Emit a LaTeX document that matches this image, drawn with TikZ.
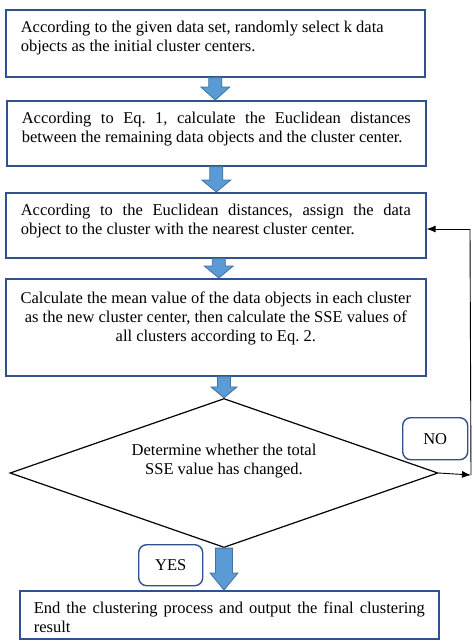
\documentclass[tikz,border=0pt]{standalone}
\usepackage{fontspec}
\setmainfont{Liberation Serif}
\usetikzlibrary{shapes.geometric,arrows.meta,calc}
\definecolor{boxblue}{HTML}{2F528F}
\definecolor{arrfill}{HTML}{5B9BD5}
\definecolor{arrline}{HTML}{41719C}
\newcommand\blockarrow[5]{%
  \draw[barrow] let \p1=#1, \p2=#2 in
    (\x1-#3,\y1) -- (\x1+#3,\y1) -- (\x1+#3,\y2+#5) -- (\x1+#4,\y2+#5)
    -- (\x1,\y2) -- (\x1-#4,\y2+#5) -- (\x1-#3,\y2+#5) -- cycle;}
\frenchspacing
\begin{document}
\begin{tikzpicture}[x=1pt,y=-1pt,font=\fontsize{16.5}{18.7}\selectfont,
  box/.style={draw=boxblue,line width=1.6pt,anchor=north west,inner xsep=15pt,inner ysep=0pt},
  barrow/.style={draw=arrline,fill=arrfill,line width=0.8pt},
  tag/.style={draw=boxblue,line width=1.4pt,rounded corners=8pt,minimum width=65pt,minimum height=42pt,anchor=north west,inner sep=0pt},
  link/.style={line width=0.9pt},
  tip/.style={-{Latex[length=9pt,width=7pt]}}]
\useasboundingbox (0,0) rectangle (474,641);

\node[box] (b1) at (5,9) {\parbox[c][67pt][t]{389pt}{\raggedright\rule{0pt}{23pt}According to the given data set, randomly select k data\\ objects as the initial cluster centers.}};
\node[box] (b2) at (6,100) {\parbox[c][65pt][t]{389pt}{\rule{0pt}{23pt}According to Eq. 1, calculate the Euclidean distances\linebreak between the remaining data objects and the cluster center.}};
\node[box] (b3) at (5,192) {\parbox[c][65pt][t]{390pt}{\rule{0pt}{23pt}According to the Euclidean distances, assign the data\linebreak object to the cluster with the nearest cluster center.}};
\node[box,inner xsep=6pt] (b4) at (5,278) {\parbox[c][97pt][t]{408pt}{\centering\rule{0pt}{25pt}Calculate the mean value of the data objects in each cluster\\ as the new cluster center, then calculate the SSE values of\\ all clusters according to Eq. 2.}};
\node[draw,diamond,line width=1.2pt,minimum width=428pt,minimum height=149pt,inner sep=0pt] (dia) at (224,473) {};
\node[align=center,inner sep=0pt] (dtx) at (224,461) {Determine whether the total\\SSE value has changed.};
\node[box,inner xsep=14pt] (b5) at (19,590) {\parbox[c][48pt][t]{391pt}{\rule{0pt}{23pt}End the clustering process and output the final clustering\linebreak result}};

\node[tag] (no) at (402,417) {NO};
\node[tag,minimum width=64pt,minimum height=41pt] (yes) at (138,544) {YES};

\blockarrow{(b1.south)}{(b2.north)}{6.5pt}{14.5pt}{13pt}
\blockarrow{(b2.south)}{(b3.north)}{6.5pt}{14.5pt}{12pt}
\blockarrow{($(b3.south)+(3,0)$)}{(b4.north)}{6.5pt}{14.5pt}{12pt}
\blockarrow{(b4.south -| dia.north)}{(dia.north)}{6.5pt}{13pt}{11pt}
\blockarrow{(dia.south)}{(b5.north -| dia.south)}{8.5pt}{14pt}{17pt}

\coordinate (fbr) at (471,475);
\coordinate (fbt) at (470,229);
\draw[link,tip] (dia.east) -- (fbr);
\draw[link] (fbr) -- (fbt);
\draw[link,tip] (fbt) -- (b3.east |- fbt);
\end{tikzpicture}
\end{document}
